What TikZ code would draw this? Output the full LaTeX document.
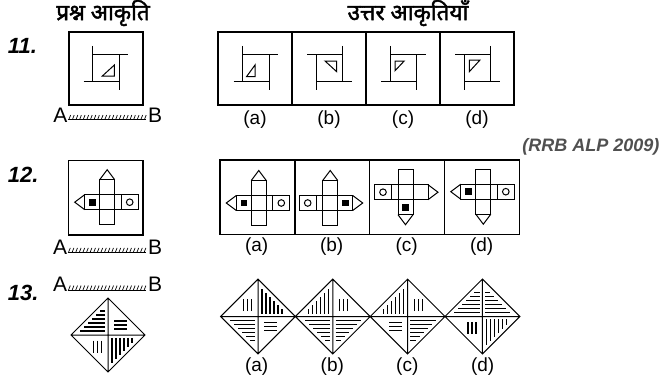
\documentclass[tikz,border=0pt]{standalone}
\usepackage{fontspec}
\setmainfont{Liberation Sans}
\newfontfamily\hindi[Script=Devanagari, FakeBold=2]{Noto Sans}
\usetikzlibrary{decorations.markings}
\definecolor{srcgray}{HTML}{505050}

% 风车形 (11)
\newcommand{\pinwheel}{%
  \draw (-13.2,-22.2) -- (-13.2,13.2);
  \draw (-13.2,-13.2) -- (22.2,-13.2);
  \draw (13.2,-13.2) -- (13.2,22.2);
  \draw (-22.2,13.2) -- (13.2,13.2);
}
% 十字展开图 (12)
\newcommand{\crossnet}[3]{%
  \draw (-7.5,-22.5) rectangle (7.5,22.5);
  \draw (-22.5,-7.5) rectangle (31,7.5);
  \draw (14,-7.5) -- (14,7.5);
  \draw (-22.5,-7.5) -- (-32.5,0) -- (-22.5,7.5);
  \draw (-7.5,{22.5*#1}) -- (0,{32.5*#1}) -- (7.5,{22.5*#1});
  \fill (#2) +(-3.3,-3.3) rectangle +(3.3,3.3);
  \draw (#3) circle[radius=3.3];
}
% 菱形与阴影 (13)
\newcommand{\rhombus}[1]{%
  \draw (-#1,0) -- (0,-#1) -- (#1,0) -- (0,#1) -- cycle (-#1,0) -- (#1,0) (0,-#1) -- (0,#1);
}
\newcommand{\hfull}[2]{\foreach \t in {4,8,12,16,20,24} \draw[hatch] ({#1*2.8},{#2*\t}) -- ({#1*(32-\t)},{#2*\t});}
\newcommand{\vfull}[2]{\foreach \t in {4,8,12,16,20,24} \draw[hatch] ({#1*\t},{#2*2.8}) -- ({#1*\t},{#2*(32-\t)});}
\newcommand{\hshort}[2]{\foreach \t in {6,10,14} \draw[hatch] ({#1*6},{#2*\t}) -- ({#1*18.5},{#2*\t});}
\newcommand{\vshort}[2]{\foreach \t in {6.5,10.5,14.5} \draw[hatch] ({#1*\t},{#2*5.5}) -- ({#1*\t},{#2*17.5});}

\begin{document}
\begin{tikzpicture}[x=1pt, y=-1pt, line width=1pt,
    box/.style={line width=1.2pt},
    hatch/.style={line width=1.2pt},
    lbl/.style={inner sep=0pt, font=\fontsize{19}{22}\selectfont},
    ab/.style={inner sep=0pt, font=\fontsize{21}{24}\selectfont},
    qnum/.style={inner sep=0pt, anchor=base west, font=\fontsize{22}{25}\selectfont\bfseries\itshape},
    head/.style={inner sep=0pt, font=\hindi\fontsize{22.5}{26}\selectfont},
    mirror/.style={postaction={decorate, decoration={markings,
        mark=between positions 0.01 and 0.99 step 3.6pt with {\draw[line width=0.7pt] (0,0) -- (1.8pt,4.6pt);}}}}]
  \useasboundingbox (0,0) rectangle (663,383);

  % 标题
  \node[head] (qhead) at (103,13) {प्रश्न आकृति};
  \node[head] (ahead) at (408,13) {उत्तर आकृतियाँ};
  \node[qnum] (n11) at (7.5,53.3) {11.};
  \node[qnum] (n12) at (7.5,182.7) {12.};
  \node[qnum] (n13) at (7.5,300) {13.};
  \node[inner sep=0pt, anchor=base east, text=srcgray, font=\fontsize{18}{21}\selectfont\bfseries\itshape] (src) at (660,151.5) {(RRB ALP 2009)};

  % 第11题
  \draw[box] (69,32) rectangle (143,105);
  \foreach \i in {0,...,3} \draw[box] ({218+74*\i},32) rectangle ({292+74*\i},105);
  \begin{scope}[shift={(105.85,68.15)}]
    \pinwheel
    \draw (-3.5,7.85) -- (8.5,7.85) -- (8.5,-3.15) -- cycle;
  \end{scope}
  \begin{scope}[shift={(255.85,68.15)}]
    \pinwheel
    \draw (-9.3,8.5) -- (-0.8,8.5) -- (-0.8,-3.2) -- cycle;
  \end{scope}
  \begin{scope}[shift={(329.3,68.15)}, xscale=-1]
    \pinwheel
  \end{scope}
  \draw (325,61) -- (336.7,61) -- (336.7,71.7) -- cycle;
  \begin{scope}[shift={(403.3,68.15)}]
    \pinwheel
    \draw (-8.3,-7.15) -- (0.9,-7.15) -- (-8.3,2.6) -- cycle;
  \end{scope}
  \begin{scope}[shift={(477.3,68.15)}, xscale=-1]
    \pinwheel
  \end{scope}
  \draw (469.3,60) -- (480,60) -- (469.3,71.7) -- cycle;
  \node[ab, anchor=base east] (A11) at (68,122.7) {A};
  \node[ab, anchor=base west] (B11) at (147.5,122.7) {B};
  \draw[mirror] ([yshift=3pt]A11.base east) -- ([shift={(-2pt,3pt)}]B11.base west);
  \node[lbl] (a11) at (255,119.5) {(a)};
  \node[lbl] (b11) at (329,119.5) {(b)};
  \node[lbl] (c11) at (403,119.5) {(c)};
  \node[lbl] (d11) at (477,119.5) {(d)};

  % 第12题
  \draw[box] (68.5,160.5) rectangle (143,235);
  \foreach \i in {0,...,3} \draw[box] ({220+74.9*\i},160) rectangle ({294.9+74.9*\i},234.5);
  \begin{scope}[shift={(107.2,202.2)}] \crossnet{-1}{-15,0}{22.5,0} \end{scope}
  \begin{scope}[shift={(258.8,203)}] \crossnet{-1}{-15,0}{22.5,0} \end{scope}
  \begin{scope}[shift={(330.2,203)}, xscale=-1] \crossnet{-1}{-15,0}{22.5,0} \end{scope}
  \begin{scope}[shift={(405.5,192.2)}, xscale=-1] \crossnet{1}{0,15}{22.5,0} \end{scope}
  \begin{scope}[shift={(483.3,191.7)}] \crossnet{1}{-15,0}{22.5,0} \end{scope}
  \node[ab, anchor=base east] (A12) at (67.7,254) {A};
  \node[ab, anchor=base west] (B12) at (147.5,254) {B};
  \draw[mirror] ([yshift=1.5pt]A12.base east) -- ([shift={(-2pt,1.5pt)}]B12.base west);
  \node[lbl] (a12) at (256.7,247) {(a)};
  \node[lbl] (b12) at (331.7,247) {(b)};
  \node[lbl] (c12) at (406.7,247) {(c)};
  \node[lbl] (d12) at (481.7,247) {(d)};

  % 第13题
  \node[ab, anchor=base east] (A13) at (67.7,291.7) {A};
  \node[ab, anchor=base west] (B13) at (147.5,291.7) {B};
  \draw[mirror] ([yshift=1.5pt]A13.base east) -- ([shift={(-2pt,1.5pt)}]B13.base west);
  \begin{scope}[shift={(108,335)}]
    \rhombus{37} \hfull{-1}{-1} \hshort{1}{-1} \vshort{-1}{1} \vfull{1}{1}
  \end{scope}
  \begin{scope}[shift={(258,316.5)}]
    \rhombus{37.4} \vshort{-1}{-1} \vfull{1}{-1} \hfull{-1}{1} \hshort{1}{1}
  \end{scope}
  \begin{scope}[shift={(332.8,316.5)}]
    \rhombus{37.4} \vfull{-1}{-1} \vshort{1}{-1} \hfull{-1}{1} \hfull{1}{1}
  \end{scope}
  \begin{scope}[shift={(407.6,316.5)}]
    \rhombus{37.4} \vfull{-1}{-1} \vshort{1}{-1} \hshort{-1}{1} \hfull{1}{1}
  \end{scope}
  \begin{scope}[shift={(482.4,316.5)}]
    \rhombus{37.4} \hfull{-1}{-1} \hfull{1}{-1} \vshort{-1}{1} \vfull{1}{1}
  \end{scope}
  \node[lbl] (a13) at (256.7,366.7) {(a)};
  \node[lbl] (b13) at (332.3,366.7) {(b)};
  \node[lbl] (c13) at (407.3,366.7) {(c)};
  \node[lbl] (d13) at (482.7,366.7) {(d)};
\end{tikzpicture}
\end{document}
